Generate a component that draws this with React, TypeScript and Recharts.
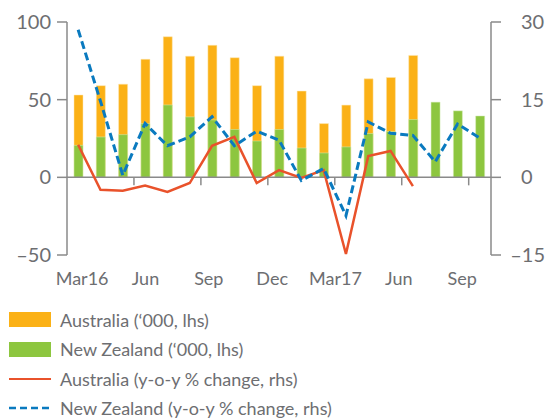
import React from "react";
import {
  ComposedChart,
  Bar,
  Line,
  XAxis,
  YAxis,
  ReferenceLine,
} from "recharts";

// months, Mar 2016 to Sep 2017
const months = [
  "Mar16", "Apr16", "May16", "Jun16", "Jul16", "Aug16", "Sep16", "Oct16", "Nov16", "Dec16",
  "Jan17", "Feb17", "Mar17", "Apr17", "May17", "Jun17", "Jul17", "Aug17", "Sep17",
];
const tickLabels: Record<string, string> = {
  Mar16: "Mar16", Jun16: "Jun", Sep16: "Sep", Dec16: "Dec",
  Mar17: "Mar17", Jun17: "Jun", Sep17: "Sep",
};

// '000, lhs
const australiaLevel = [53, 59, 60, 76, 90.5, 78, 85, 77, 59, 78, 55.5, 34.6, 46.5, 63.4, 64.3, 78.5, null, null, null];
const nzLevel = [20.6, 26, 27.5, 34.6, 46.6, 38.9, 37, 30.8, 23.4, 30.8, 18.9, 15.7, 19.6, 28.2, 29.5, 37.2, 48.4, 42.8, 39.5];

// y-o-y % change, rhs
const australiaChange = [6.3, -2.4, -2.6, -1.6, -2.8, -1.1, 6.1, 7.8, -1.1, 1.4, -0.1, 1.4, -14.8, 4.1, 5.1, -1.7, null, null, null];
const nzChange = [28.5, 14.7, 0.4, 10.4, 6.1, 7.8, 11.7, 6.1, 8.9, 7.2, -0.6, 1.7, -7.4, 10.7, 8.5, 8.1, 3, 10.3, 7.6];

const data = months.map((m, i) => ({
  month: m,
  ausLevel: australiaLevel[i],
  nzLevel: nzLevel[i],
  ausChange: australiaChange[i],
  nzChange: nzChange[i],
}));

const ORANGE = "#fbb116";
const GREEN = "#8dc63f";
const RED = "#e9522b";
const BLUE = "#0a7abf";
const GREY = "#8a8a8a";
const TEXT = "#6d6e71";
const FONT = "Lato, 'Open Sans', sans-serif";

const CHART_W = 546;
const CHART_H = 300;
const TOP = 22;
const LEFT_W = 67;
const RIGHT_W = 55;
const XAXIS_H = 45;
const PLOT_W = CHART_W - LEFT_W - RIGHT_W;
const PLOT_H = CHART_H - TOP - XAXIS_H;
const BAND = PLOT_W / months.length;
const ZERO_Y = TOP + PLOT_H * (100 / 150);

const fmt = (v: number) => (v < 0 ? `\u2013${Math.abs(v)}` : `${v}`);

function MonthTick(props: any) {
  const { x, payload, index } = props;
  const label = tickLabels[payload.value];
  if (!label) return null;
  // labels in the original sit a little tighter than the bars
  const lx = x + 4 - (x - LEFT_W - BAND / 2) * 0.054;
  return (
    <g>
      {index > 0 && (
        <line
          x1={x - BAND / 2}
          x2={x - BAND / 2}
          y1={ZERO_Y}
          y2={ZERO_Y + 8}
          stroke={GREY}
          strokeWidth={1.5}
        />
      )}
      <text
        x={lx}
        y={TOP + PLOT_H + 30}
        textAnchor="middle"
        fill={TEXT}
        fontSize={18}
        fontFamily={FONT}
      >
        {label}
      </text>
    </g>
  );
}

function RightTick(props: any) {
  const { y, payload } = props;
  const v = payload.value as number;
  return (
    <text
      x={v < 0 ? 545 : 521}
      y={y}
      dy="0.35em"
      textAnchor={v < 0 ? "end" : "start"}
      fill={TEXT}
      fontSize={20}
      fontFamily={FONT}
    >
      {fmt(v)}
    </text>
  );
}

function LegendRow({ kind, color, label }: { kind: string; color: string; label: string }) {
  let swatch;
  if (kind === "bar") {
    swatch = <div style={{ width: 42, height: 15, background: color }} />;
  } else if (kind === "line") {
    swatch = <div style={{ width: 42, height: 0, borderTop: `2.5px solid ${color}` }} />;
  } else {
    swatch = (
      <svg width={42} height={4}>
        <line x1={0} x2={42} y1={2} y2={2} stroke={color} strokeWidth={2.5} strokeDasharray="7 4" />
      </svg>
    );
  }
  return (
    <div style={{ display: "flex", alignItems: "center", height: 29.5 }}>
      <div style={{ width: 51, paddingLeft: 9, boxSizing: "border-box", display: "flex", alignItems: "center" }}>
        {swatch}
      </div>
      <span style={{ marginLeft: 9, fontSize: 18, color: TEXT, fontFamily: FONT }}>{label}</span>
    </div>
  );
}

export default function App() {
  return (
    <div style={{ width: CHART_W, height: 419, background: "#fff" }}>
      <style>{`body{margin:0}`}</style>

      <ComposedChart
        width={CHART_W}
        height={CHART_H}
        data={data}
        margin={{ top: TOP, right: 0, left: 0, bottom: 0 }}
        barGap={-9}
      >
        <XAxis
          dataKey="month"
          height={XAXIS_H}
          axisLine={false}
          tickLine={false}
          interval={0}
          tick={<MonthTick />}
        />

        <YAxis
          yAxisId="left"
          width={LEFT_W}
          domain={[-50, 100]}
          ticks={[-50, 0, 50, 100]}
          axisLine={{ stroke: GREY, strokeWidth: 1.5 }}
          tickLine={{ stroke: GREY, strokeWidth: 1.5 }}
          tickSize={10}
          tickMargin={6}
          tick={{ fill: TEXT, fontSize: 20, fontFamily: FONT }}
          tickFormatter={fmt}
        />

        <YAxis
          yAxisId="right"
          orientation="right"
          width={RIGHT_W}
          domain={[-15, 30]}
          ticks={[-15, 0, 15, 30]}
          axisLine={{ stroke: GREY, strokeWidth: 1.5 }}
          tickLine={{ stroke: GREY, strokeWidth: 1.5 }}
          tickSize={10}
          tick={<RightTick />}
        />

        <ReferenceLine yAxisId="left" y={0} stroke={GREY} strokeWidth={1.5} />

        <Bar
          yAxisId="left"
          dataKey="ausLevel"
          fill={ORANGE}
          barSize={9}
          stroke="#fde6b0"
          strokeWidth={0.5}
          isAnimationActive={false}
        />
        <Bar
          yAxisId="left"
          dataKey="nzLevel"
          fill={GREEN}
          barSize={9}
          stroke="#d6ecb8"
          strokeWidth={0.5}
          isAnimationActive={false}
        />

        <Line
          yAxisId="right"
          type="linear"
          dataKey="ausChange"
          stroke={RED}
          strokeWidth={2.5}
          dot={false}
          isAnimationActive={false}
        />
        <Line
          yAxisId="right"
          type="linear"
          dataKey="nzChange"
          stroke={BLUE}
          strokeWidth={3}
          strokeDasharray="8 4"
          dot={false}
          isAnimationActive={false}
        />
      </ComposedChart>

      <div style={{ marginTop: 5 }}>
        <LegendRow kind="bar" color={ORANGE} label="Australia (‘000, lhs)" />
        <LegendRow kind="bar" color={GREEN} label="New Zealand (‘000, lhs)" />
        <LegendRow kind="line" color={RED} label="Australia (y-o-y % change, rhs)" />
        <LegendRow kind="dash" color={BLUE} label="New Zealand (y-o-y % change, rhs)" />
      </div>
    </div>
  );
}
